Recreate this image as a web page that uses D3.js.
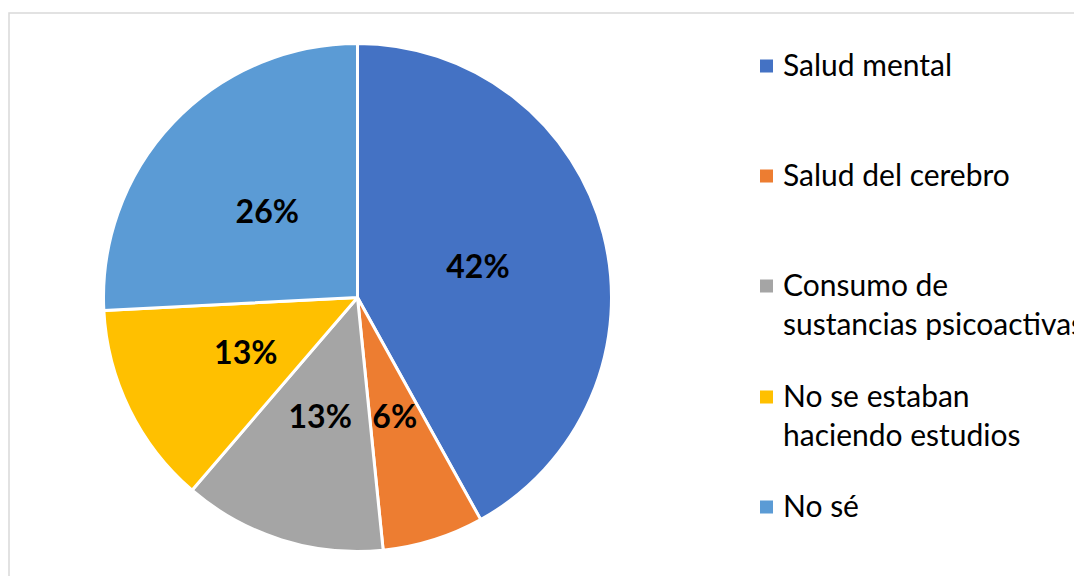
<!DOCTYPE html>
<html>
<head>
<meta charset="utf-8">
<script src="https://cdn.jsdelivr.net/npm/d3@7"></script>
<style>
  html, body { margin: 0; padding: 0; background: #fff; overflow: hidden; }
  svg { display: block; }
</style>
</head>
<body>
<svg id="chart" width="1074" height="576"></svg>
<script>
// Survey answers (share of respondents, %)
const categories = [
  "Salud mental",
  "Salud del cerebro",
  "Consumo de sustancias psicoactivas",
  "No se estaban haciendo estudios",
  "No sé"
];
const values = [41.94, 6.45, 12.90, 12.90, 25.81];
const colors = ["#4472C4", "#ED7D31", "#A5A5A5", "#FFC000", "#5B9BD5"];
// Legend entries as they wrap onto lines
const legendLines = [
  ["Salud mental"],
  ["Salud del cerebro"],
  ["Consumo de", "sustancias psicoactivas"],
  ["No se estaban", "haciendo estudios"],
  ["No sé"]
];

const svg = d3.select("#chart");
const font = "Lato, 'Open Sans', sans-serif";

// chart area frame (open on the right and bottom)
svg.append("path")
  .attr("d", "M9,576 L9,13 L1074,13")
  .attr("fill", "none")
  .attr("stroke", "#d9d9d9")
  .attr("stroke-width", 1.5);

const cx = 357.5, cy = 297.5, R = 254;

const pie = d3.pie().sort(null).value(d => d)(values);
const arc = d3.arc().innerRadius(0).outerRadius(R);
const labelArc = d3.arc().innerRadius(R * 0.49).outerRadius(R * 0.49);

const g = svg.append("g").attr("transform", `translate(${cx},${cy})`);

g.selectAll("path.slice")
  .data(pie)
  .join("path")
  .attr("class", "slice")
  .attr("d", arc)
  .attr("fill", (d, i) => colors[i])
  .attr("stroke", "#fff")
  .attr("stroke-width", 3)
  .attr("stroke-linejoin", "round");

g.selectAll("text.pct")
  .data(pie)
  .join("text")
  .attr("class", "pct")
  .attr("x", d => labelArc.centroid(d)[0])
  .attr("y", d => labelArc.centroid(d)[1] - 1)
  .attr("text-anchor", "middle")
  .attr("dominant-baseline", "central")
  .attr("font-family", font)
  .attr("font-weight", "bold")
  .attr("font-size", 32)
  .attr("fill", "#000")
  .text(d => Math.round(d.data) + "%");

// legend
const legendY = [66, 176, 286, 397, 507];
const lineH = 39;
const legend = svg.append("g");
legendLines.forEach((lines, i) => {
  const row = legend.append("g").attr("transform", `translate(0,${legendY[i]})`);
  row.append("rect")
    .attr("x", 760).attr("y", -6.5)
    .attr("width", 13).attr("height", 13)
    .attr("fill", colors[i]);
  lines.forEach((t, j) => {
    row.append("text")
      .attr("x", 783)
      .attr("y", j * lineH - 2)
      .attr("dominant-baseline", "central")
      .attr("font-family", font)
      .attr("font-size", 30)
      .attr("fill", "#000")
      .text(t);
  });
});
</script>
</body>
</html>
